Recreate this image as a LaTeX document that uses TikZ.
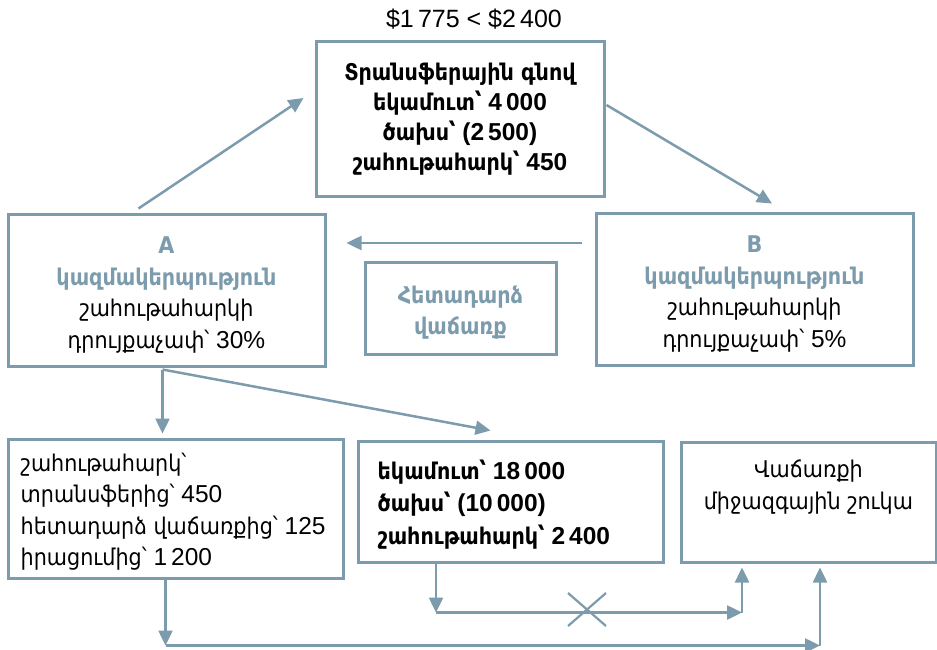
\documentclass[tikz,border=0pt]{standalone}
\usepackage{fontspec}
\setmainfont{Liberation Sans}
\newfontfamily\armfont[Scale=0.94]{DejaVu Sans Condensed}
\newcommand\hy[1]{{\armfont #1}}
\usetikzlibrary{arrows.meta}
\definecolor{frame}{HTML}{7C9CAD}
\begin{document}
\begin{tikzpicture}[x=1pt,y=-1pt,
  box/.style={draw=frame,line width=3pt,inner sep=0pt,align=center,
    font=\fontsize{24.5}{30.5}\selectfont},
  conn/.style={draw=frame,line width=2.5pt,-{Triangle[length=15pt,width=14pt]}},
  plain/.style={draw=frame,line width=2.2pt},
  inner/.style={inner sep=0pt,align=left,anchor=west},
  mid/.style={inner sep=0pt,align=center}]
\useasboundingbox (0,0) rectangle (937,650);

% price comparison above the transfer box
\node[font=\fontsize{25}{30}\selectfont] (price) at (474,19) {\$1\,775 < \$2\,400};

% transfer pricing box
\node[box,minimum width=288pt,minimum height=154pt,font=\fontsize{24.5}{30}\selectfont\bfseries] (tp) at (460,119)
  {\hy{Տրանսֆերային գնով}\\ \hy{եկամուտ՝} 4\,000\\ \hy{ծախս՝} (2\,500)\\ \hy{շահութահարկ՝} 450};

% organisations
\node[box,minimum width=317pt,minimum height=152pt] (orga) at (166.5,290) {};
\node[mid,font=\fontsize{24.5}{31.5}\selectfont] (orgatxt) at ([yshift=-5pt]orga.center)
  {{\bfseries\color{frame}\hy{A}}\\ {\bfseries\color{frame}\hy{կազմակերպություն}}\\ \hy{շահութահարկի}\\ \hy{դրույքաչափ՝} 30\%};
\node[box,minimum width=317pt,minimum height=152pt] (orgb) at (754.5,289) {};
\node[mid,font=\fontsize{24.5}{31.5}\selectfont] (orgbtxt) at ([yshift=-5pt]orgb.center)
  {{\bfseries\color{frame}\hy{B}}\\ {\bfseries\color{frame}\hy{կազմակերպություն}}\\ \hy{շահութահարկի}\\ \hy{դրույքաչափ՝} 5\%};
\node[box,minimum width=191pt,minimum height=92pt] (resale) at (460.5,308) {};
\node[mid,font=\fontsize{24.5}{31}\selectfont\bfseries\color{frame}] (resaletxt) at ([yshift=-5pt]resale.center)
  {\hy{Հետադարձ}\\ \hy{վաճառք}};

% lower row
\node[box,minimum width=335pt,minimum height=139pt] (taxa) at (175.5,508.5) {};
\node[inner,font=\fontsize{24.5}{31.5}\selectfont] (taxatxt) at ([xshift=14pt,yshift=-3pt]taxa.west)
  {\hy{շահութահարկ՝}\\ \hy{տրանսֆերից՝} 450\\ \hy{հետադարձ վաճառքից՝} 125\\ \hy{իրացումից՝} 1\,200};
\node[box,minimum width=305pt,minimum height=121pt] (sale) at (510.5,501.5) {};
\node[inner,font=\fontsize{24.5}{32.5}\selectfont\bfseries] (saletxt) at ([xshift=21pt,yshift=-3pt]sale.west)
  {\hy{եկամուտ՝} 18\,000\\ \hy{ծախս՝} (10\,000)\\ \hy{շահութահարկ՝} 2\,400};
\node[box,minimum width=255pt,minimum height=120pt] (market) at (808.5,502) {};
\node[font=\fontsize{24.5}{32}\selectfont,align=center,anchor=north,inner sep=0pt] (markettxt) at ([yshift=-19pt]market.north)
  {\hy{Վաճառքի}\\ \hy{միջազգային շուկա}};

% connectors between the upper boxes
\draw[conn] ([xshift=-28pt,yshift=4pt]orga.north) -- ([xshift=-11pt,yshift=21pt]tp.west);
\draw[conn] ([xshift=1pt,yshift=14pt]tp.east) -- ([xshift=17.5pt,yshift=8pt]orgb.north);
\draw[conn] ([xshift=-13pt,yshift=46pt]orgb.west) -- ([xshift=20pt,yshift=47pt]orga.east);

% from A down to the lower row
\coordinate (asp) at ([xshift=-4pt,yshift=-2pt]orga.south);
\draw[conn,shorten >=4pt] (asp) -- (asp |- taxa.north);
\draw[conn] (asp) -- ([xshift=-20pt,yshift=9pt]sale.north);

% tax route to the market
\coordinate (ts) at ([xshift=-10pt]taxa.south);
\coordinate (tc) at ([yshift=-66pt]ts);
\coordinate (mr) at ([xshift=11.5pt]market.south);
\draw[conn] (ts) -- (tc);
\draw[conn] (tc) -- (tc -| mr);
\draw[conn,shorten >=4pt] (tc -| mr) -- (mr);

% blocked sale route to the market
\coordinate (ss) at ([xshift=-74.5pt]sale.south);
\coordinate (sc) at ([yshift=-49pt]ss);
\coordinate (ml) at ([xshift=-66.5pt]market.south);
\draw[conn] (ss) -- (sc);
\draw[conn] (sc) -- (sc -| ml);
\draw[conn,shorten >=4pt] (sc -| ml) -- (ml);

% cross mark
\coordinate (xm) at (587,610);
\draw[plain] ([shift={(-19pt,17pt)}]xm) -- ([shift={(19pt,-16pt)}]xm);
\draw[plain] ([shift={(-19pt,-16pt)}]xm) -- ([shift={(19pt,17pt)}]xm);
\end{tikzpicture}
\end{document}
